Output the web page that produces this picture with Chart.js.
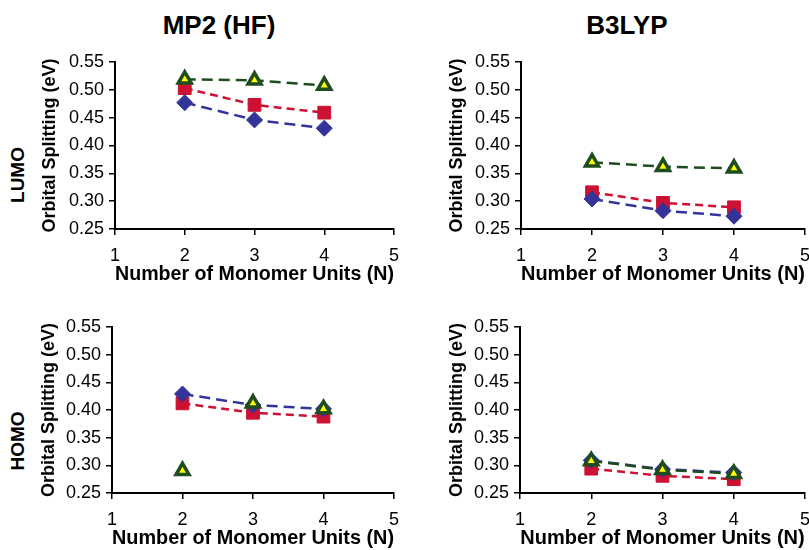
<!DOCTYPE html>
<html>
<head>
<meta charset="utf-8">
<script src="https://cdn.jsdelivr.net/npm/chart.js@4.4.1/dist/chart.umd.min.js"></script>
<style>
  body { margin: 0; width: 809px; height: 550px; overflow: hidden; position: relative; background: #fff; font-family: 'Liberation Sans', Arial, sans-serif; }
  .panel { position: absolute; }
  .coltitle { position: absolute; font-weight: bold; font-size: 26px; transform: translate(-50%, -50%); white-space: nowrap; }
  .rowtitle { position: absolute; font-weight: bold; font-size: 19px; transform: translate(-50%, -50%) rotate(-90deg); white-space: nowrap; }
</style>
</head>
<body>
<div class="coltitle" style="left:219px; top:25px;">MP2 (HF)</div>
<div class="coltitle" style="left:627px; top:25px;">B3LYP</div>
<div class="rowtitle" style="left:18px; top:175px;">LUMO</div>
<div class="rowtitle" style="left:18px; top:441px;">HOMO</div>

<div class="panel" style="left:0px; top:40px;"><canvas id="lumoMp2" width="410" height="250"></canvas></div>
<div class="panel" style="left:405px; top:40px;"><canvas id="lumoB3lyp" width="420" height="250"></canvas></div>
<div class="panel" style="left:0px; top:300px;"><canvas id="homoMp2" width="410" height="254"></canvas></div>
<div class="panel" style="left:405px; top:300px;"><canvas id="homoB3lyp" width="420" height="254"></canvas></div>

<script>
// monomer counts (x values) and axis ticks
const monomers = [2, 3, 4];
const xTicks = [1, 2, 3, 4, 5];
const yTicks = [0.25, 0.30, 0.35, 0.40, 0.45, 0.50, 0.55];

// LUMO, MP2 (HF)
const lumoMp2Diamond = [0.477, 0.446, 0.431];
const lumoMp2Square = [0.503, 0.473, 0.459];
const lumoMp2Triangle = [0.519, 0.517, 0.508];

// LUMO, B3LYP
const lumoB3lypDiamond = [0.304, 0.283, 0.273];
const lumoB3lypSquare = [0.316, 0.297, 0.289];
const lumoB3lypTriangle = [0.370, 0.362, 0.359];

// HOMO, MP2 (HF)
const homoMp2Diamond = [0.429, 0.409, 0.402];
const homoMp2Square = [0.412, 0.395, 0.388];
const homoMp2Triangle = [0.290, 0.412, 0.402];

// HOMO, B3LYP
const homoB3lypDiamond = [0.309, 0.293, 0.287];
const homoB3lypSquare = [0.294, 0.281, 0.275];
const homoB3lypTriangle = [0.308, 0.292, 0.285];

Chart.defaults.font.family = "'Liberation Sans', Arial, sans-serif";
Chart.defaults.color = '#000';

const BLUE = '#333399';
const RED = '#cc1133';
const GREEN = '#1f4d1f';
const YELLOW = '#ffff00';

function toPoints(values) {
  return values.map((v, i) => ({ x: monomers[i], y: v }));
}

// one panel: fixed axis sizes so the plot areas line up with the figure
function makePanel(id, opts) {
  const ctx = document.getElementById(id).getContext('2d');
  return new Chart(ctx, {
    type: 'line',
    data: {
      datasets: [
        {
          data: toPoints(opts.diamond),
          borderColor: BLUE, backgroundColor: BLUE,
          borderWidth: 2.5, borderDash: [11, 6],
          pointStyle: 'rectRot', pointRadius: 8, pointBorderWidth: 1,
          order: 1
        },
        {
          data: toPoints(opts.square),
          borderColor: RED, backgroundColor: RED,
          borderWidth: 2.5, borderDash: [8, 5],
          pointStyle: 'rect', pointRadius: 9, pointBorderWidth: 1,
          order: 2
        },
        {
          data: toPoints(opts.triangle),
          borderColor: GREEN, backgroundColor: YELLOW,
          pointBorderColor: GREEN, pointBackgroundColor: YELLOW,
          borderWidth: 2.5, borderDash: [11, 6],
          pointStyle: 'triangle', pointRadius: 7.5, pointBorderWidth: 3.5,
          showLine: opts.triangleLine !== false,
          order: 0
        }
      ]
    },
    options: {
      responsive: false,
      animation: false,
      layout: { padding: { top: opts.padTop, right: opts.padRight, left: 0, bottom: 0 } },
      plugins: { legend: { display: false }, tooltip: { enabled: false } },
      scales: {
        x: {
          type: 'linear', min: 1, max: 5,
          afterBuildTicks: s => { s.ticks = xTicks.map(v => ({ value: v })); },
          afterFit: s => { s.height = opts.xHeight; },
          border: { display: true, color: '#000', width: 2 },
          grid: { drawOnChartArea: false, drawTicks: true, tickLength: 6, color: '#000', lineWidth: 1.5 },
          ticks: { font: { size: 18 }, padding: 10, maxRotation: 0 },
          title: { display: true, text: 'Number of Monomer Units (N)', font: { size: 20, weight: 'bold' }, padding: { top: 0, bottom: 4 } }
        },
        y: {
          min: 0.25, max: 0.55,
          afterBuildTicks: s => { s.ticks = yTicks.map(v => ({ value: v })); },
          afterFit: s => { s.width = opts.yWidth; },
          border: { display: true, color: '#000', width: 2 },
          grid: { drawOnChartArea: false, drawTicks: true, tickLength: 6, color: '#000', lineWidth: 1.5 },
          ticks: { font: { size: 18 }, padding: 5, callback: v => v.toFixed(2) },
          title: { display: true, text: 'Orbital Splitting (eV)', font: { size: 18, weight: 'bold' }, padding: { top: opts.yTitlePad, bottom: 0 } }
        }
      }
    }
  });
}

makePanel('lumoMp2', {
  diamond: lumoMp2Diamond, square: lumoMp2Square, triangle: lumoMp2Triangle,
  padTop: 22, padRight: 16, xHeight: 61, yWidth: 115, yTitlePad: 39
});
makePanel('lumoB3lyp', {
  diamond: lumoB3lypDiamond, square: lumoB3lypSquare, triangle: lumoB3lypTriangle,
  padTop: 22, padRight: 20, xHeight: 61, yWidth: 116, yTitlePad: 41
});
makePanel('homoMp2', {
  diamond: homoMp2Diamond, square: homoMp2Square, triangle: homoMp2Triangle,
  triangleLine: false,
  padTop: 27, padRight: 16, xHeight: 61, yWidth: 112, yTitlePad: 38
});
makePanel('homoB3lyp', {
  diamond: homoB3lypDiamond, square: homoB3lypSquare, triangle: homoB3lypTriangle,
  padTop: 27, padRight: 20, xHeight: 61, yWidth: 115, yTitlePad: 41
});
</script>
</body>
</html>
